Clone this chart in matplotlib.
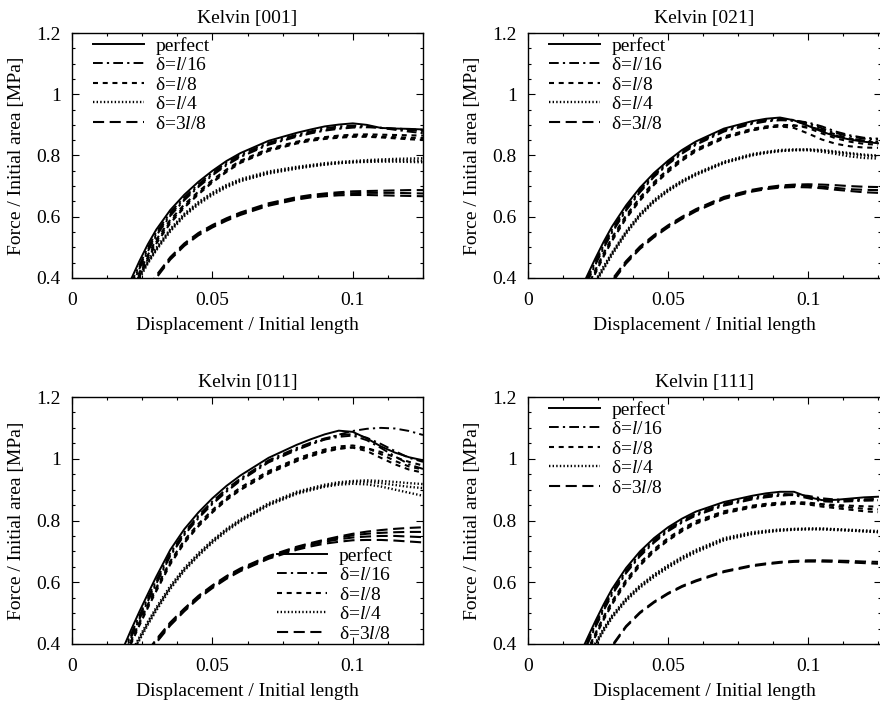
import matplotlib
matplotlib.use("Agg")
import matplotlib.pyplot as plt
from matplotlib.ticker import FixedLocator, FixedFormatter, MultipleLocator

plt.rcParams.update({
    "font.family": ["Liberation Serif", "DejaVu Serif"],
    "mathtext.fontset": "custom",
    "mathtext.rm": "Liberation Serif",
    "mathtext.it": "Liberation Serif:italic",
    "font.size": 14,
    "lines.scale_dashes": False,
    "axes.linewidth": 1.0,
})

# strain sample points shared by every curve
strain = [0.018, 0.021, 0.024, 0.027, 0.030, 0.035, 0.040, 0.045, 0.050, 0.055, 0.060,
          0.070, 0.080, 0.085, 0.090, 0.095, 0.100, 0.105, 0.110, 0.115, 0.120, 0.125]

labels = ["perfect", "δ=$l$/16", "δ=$l$/8", "δ=$l$/4", "δ=3$l$/8"]
titles = ["Kelvin [001]", "Kelvin [021]", "Kelvin [011]", "Kelvin [111]"]
xtick_vals = [0, 0.05, 0.1]
xtick_text = ["0", "0.05", "0.1"]
ytick_vals = [0.4, 0.6, 0.8, 1.0, 1.2]
ytick_text = ["0.4", "0.6", "0.8", "1", "1.2"]

# ---- Kelvin [001] ----
k001_perfect = [[0.335, 0.395, 0.455, 0.510, 0.558, 0.622, 0.672, 0.714, 0.750, 0.782, 0.808, 0.848, 0.874, 0.885, 0.895, 0.901, 0.905, 0.900, 0.890, 0.888, 0.887, 0.885]]
k001_l16 = [
    [0.320, 0.382, 0.442, 0.499, 0.549, 0.614, 0.664, 0.706, 0.744, 0.777, 0.803, 0.842, 0.868, 0.879, 0.889, 0.895, 0.898, 0.896, 0.890, 0.886, 0.883, 0.880],
    [0.314, 0.376, 0.436, 0.493, 0.543, 0.608, 0.658, 0.701, 0.739, 0.772, 0.798, 0.838, 0.864, 0.875, 0.884, 0.890, 0.894, 0.894, 0.890, 0.884, 0.878, 0.873],
    [0.308, 0.370, 0.430, 0.487, 0.538, 0.603, 0.654, 0.697, 0.735, 0.768, 0.795, 0.835, 0.861, 0.872, 0.881, 0.887, 0.891, 0.892, 0.891, 0.888, 0.886, 0.884]]
k001_l8 = [
    [0.295, 0.358, 0.418, 0.475, 0.525, 0.590, 0.640, 0.682, 0.720, 0.754, 0.783, 0.822, 0.845, 0.854, 0.860, 0.865, 0.868, 0.869, 0.868, 0.867, 0.866, 0.865],
    [0.288, 0.351, 0.411, 0.468, 0.518, 0.584, 0.634, 0.677, 0.715, 0.749, 0.779, 0.818, 0.842, 0.851, 0.857, 0.861, 0.864, 0.864, 0.862, 0.860, 0.858, 0.857],
    [0.282, 0.345, 0.405, 0.462, 0.512, 0.579, 0.630, 0.673, 0.712, 0.746, 0.776, 0.815, 0.839, 0.848, 0.854, 0.858, 0.861, 0.861, 0.859, 0.856, 0.853, 0.851]]
k001_l4 = [
    [0.305, 0.357, 0.407, 0.455, 0.498, 0.560, 0.610, 0.648, 0.679, 0.704, 0.723, 0.748, 0.763, 0.769, 0.775, 0.779, 0.782, 0.785, 0.787, 0.789, 0.790, 0.791],
    [0.301, 0.353, 0.403, 0.451, 0.494, 0.556, 0.606, 0.644, 0.675, 0.700, 0.719, 0.744, 0.760, 0.766, 0.771, 0.775, 0.778, 0.779, 0.780, 0.780, 0.779, 0.778],
    [0.297, 0.349, 0.399, 0.447, 0.490, 0.552, 0.602, 0.640, 0.671, 0.696, 0.716, 0.741, 0.757, 0.764, 0.770, 0.775, 0.778, 0.781, 0.783, 0.784, 0.784, 0.783]]
k001_l38 = [
    [0.230, 0.275, 0.320, 0.365, 0.408, 0.468, 0.513, 0.547, 0.573, 0.595, 0.614, 0.644, 0.664, 0.671, 0.676, 0.680, 0.683, 0.684, 0.685, 0.686, 0.687, 0.687],
    [0.226, 0.271, 0.316, 0.361, 0.404, 0.464, 0.509, 0.543, 0.569, 0.591, 0.610, 0.640, 0.660, 0.667, 0.672, 0.675, 0.677, 0.678, 0.678, 0.678, 0.677, 0.676],
    [0.222, 0.267, 0.312, 0.357, 0.400, 0.460, 0.505, 0.539, 0.565, 0.587, 0.606, 0.636, 0.656, 0.663, 0.667, 0.670, 0.671, 0.671, 0.670, 0.669, 0.668, 0.667]]

# ---- Kelvin [021] ----
k021_perfect = [[0.345, 0.405, 0.463, 0.518, 0.568, 0.637, 0.695, 0.743, 0.783, 0.818, 0.846, 0.888, 0.912, 0.920, 0.924, 0.915, 0.897, 0.878, 0.862, 0.852, 0.845, 0.840]]
k021_l16 = [
    [0.335, 0.395, 0.453, 0.508, 0.559, 0.629, 0.688, 0.737, 0.778, 0.813, 0.841, 0.884, 0.909, 0.917, 0.920, 0.916, 0.905, 0.889, 0.873, 0.862, 0.855, 0.852],
    [0.330, 0.389, 0.447, 0.502, 0.553, 0.624, 0.683, 0.733, 0.774, 0.809, 0.838, 0.881, 0.906, 0.914, 0.917, 0.913, 0.900, 0.882, 0.865, 0.855, 0.849, 0.845],
    [0.325, 0.384, 0.442, 0.497, 0.548, 0.620, 0.680, 0.730, 0.771, 0.806, 0.835, 0.878, 0.903, 0.911, 0.915, 0.914, 0.908, 0.895, 0.878, 0.866, 0.858, 0.855]]
k021_l8 = [
    [0.305, 0.366, 0.425, 0.481, 0.532, 0.604, 0.663, 0.713, 0.755, 0.791, 0.821, 0.862, 0.887, 0.895, 0.900, 0.899, 0.890, 0.872, 0.856, 0.845, 0.838, 0.835],
    [0.300, 0.360, 0.419, 0.475, 0.526, 0.598, 0.657, 0.708, 0.750, 0.786, 0.817, 0.858, 0.883, 0.891, 0.895, 0.890, 0.872, 0.852, 0.838, 0.830, 0.826, 0.825],
    [0.295, 0.355, 0.414, 0.470, 0.521, 0.594, 0.653, 0.704, 0.746, 0.783, 0.814, 0.856, 0.882, 0.890, 0.896, 0.897, 0.894, 0.884, 0.868, 0.855, 0.846, 0.842]]
k021_l4 = [
    [0.290, 0.340, 0.390, 0.438, 0.483, 0.552, 0.610, 0.655, 0.690, 0.718, 0.742, 0.780, 0.805, 0.812, 0.818, 0.820, 0.819, 0.815, 0.810, 0.805, 0.800, 0.797],
    [0.286, 0.336, 0.385, 0.433, 0.479, 0.548, 0.606, 0.651, 0.686, 0.715, 0.739, 0.777, 0.802, 0.810, 0.815, 0.817, 0.817, 0.812, 0.805, 0.797, 0.792, 0.790],
    [0.282, 0.332, 0.381, 0.429, 0.475, 0.544, 0.602, 0.648, 0.683, 0.712, 0.736, 0.775, 0.800, 0.808, 0.814, 0.818, 0.820, 0.818, 0.813, 0.808, 0.803, 0.800]]
k021_l38 = [
    [0.220, 0.265, 0.310, 0.355, 0.395, 0.455, 0.503, 0.540, 0.572, 0.600, 0.625, 0.665, 0.688, 0.696, 0.702, 0.705, 0.706, 0.705, 0.703, 0.700, 0.698, 0.697],
    [0.215, 0.260, 0.305, 0.350, 0.390, 0.451, 0.499, 0.536, 0.568, 0.596, 0.621, 0.661, 0.685, 0.693, 0.698, 0.701, 0.701, 0.698, 0.694, 0.690, 0.688, 0.687],
    [0.210, 0.255, 0.300, 0.345, 0.385, 0.447, 0.495, 0.533, 0.565, 0.593, 0.618, 0.658, 0.682, 0.690, 0.695, 0.697, 0.696, 0.693, 0.688, 0.684, 0.680, 0.678]]

# ---- Kelvin [011] ----
k011_perfect = [[0.382, 0.445, 0.505, 0.562, 0.618, 0.705, 0.772, 0.826, 0.872, 0.912, 0.946, 1.003, 1.045, 1.063, 1.079, 1.091, 1.087, 1.066, 1.040, 1.020, 1.005, 0.995]]
k011_l16 = [
    [0.370, 0.432, 0.492, 0.550, 0.606, 0.695, 0.762, 0.816, 0.862, 0.902, 0.936, 0.995, 1.035, 1.052, 1.066, 1.076, 1.080, 1.068, 1.048, 1.025, 1.003, 0.990],
    [0.365, 0.426, 0.486, 0.544, 0.600, 0.690, 0.757, 0.811, 0.857, 0.897, 0.932, 0.991, 1.031, 1.048, 1.062, 1.071, 1.075, 1.060, 1.035, 1.008, 0.982, 0.967],
    [0.360, 0.420, 0.480, 0.538, 0.595, 0.685, 0.753, 0.807, 0.853, 0.893, 0.929, 0.988, 1.028, 1.046, 1.063, 1.078, 1.090, 1.097, 1.100, 1.098, 1.090, 1.077]]
k011_l8 = [
    [0.350, 0.410, 0.470, 0.528, 0.582, 0.668, 0.736, 0.789, 0.834, 0.874, 0.907, 0.960, 1.000, 1.016, 1.030, 1.040, 1.043, 1.035, 1.015, 0.993, 0.975, 0.965],
    [0.345, 0.405, 0.465, 0.522, 0.576, 0.663, 0.731, 0.784, 0.829, 0.869, 0.902, 0.955, 0.995, 1.011, 1.025, 1.034, 1.036, 1.025, 1.003, 0.982, 0.965, 0.955],
    [0.340, 0.400, 0.460, 0.517, 0.571, 0.658, 0.727, 0.781, 0.826, 0.866, 0.899, 0.952, 0.992, 1.008, 1.022, 1.032, 1.037, 1.034, 1.022, 1.005, 0.990, 0.978]]
k011_l4 = [
    [0.315, 0.370, 0.422, 0.472, 0.518, 0.588, 0.646, 0.694, 0.736, 0.773, 0.804, 0.856, 0.893, 0.905, 0.916, 0.924, 0.928, 0.930, 0.928, 0.925, 0.921, 0.918],
    [0.310, 0.365, 0.417, 0.467, 0.513, 0.583, 0.641, 0.689, 0.732, 0.769, 0.800, 0.852, 0.889, 0.901, 0.912, 0.920, 0.925, 0.925, 0.921, 0.915, 0.909, 0.905],
    [0.305, 0.360, 0.412, 0.462, 0.508, 0.578, 0.637, 0.685, 0.728, 0.765, 0.797, 0.849, 0.886, 0.898, 0.909, 0.916, 0.919, 0.917, 0.910, 0.900, 0.890, 0.880]]
k011_l38 = [
    [0.240, 0.290, 0.335, 0.378, 0.415, 0.470, 0.515, 0.556, 0.590, 0.620, 0.645, 0.685, 0.715, 0.727, 0.738, 0.748, 0.757, 0.764, 0.769, 0.773, 0.776, 0.778],
    [0.236, 0.286, 0.331, 0.374, 0.411, 0.466, 0.512, 0.553, 0.587, 0.617, 0.642, 0.682, 0.712, 0.724, 0.735, 0.744, 0.752, 0.757, 0.760, 0.762, 0.763, 0.763],
    [0.232, 0.282, 0.327, 0.370, 0.407, 0.463, 0.509, 0.550, 0.584, 0.614, 0.639, 0.679, 0.709, 0.721, 0.731, 0.739, 0.745, 0.748, 0.750, 0.750, 0.748, 0.746],
    [0.228, 0.278, 0.323, 0.366, 0.404, 0.460, 0.506, 0.547, 0.581, 0.611, 0.636, 0.676, 0.705, 0.716, 0.725, 0.731, 0.736, 0.737, 0.737, 0.735, 0.732, 0.729]]

# ---- Kelvin [111] ----
k111_perfect = [[0.355, 0.415, 0.473, 0.528, 0.578, 0.646, 0.700, 0.743, 0.778, 0.806, 0.829, 0.860, 0.880, 0.888, 0.893, 0.893, 0.876, 0.866, 0.867, 0.871, 0.875, 0.877]]
k111_l16 = [
    [0.345, 0.405, 0.463, 0.518, 0.569, 0.638, 0.693, 0.737, 0.772, 0.800, 0.823, 0.855, 0.875, 0.882, 0.886, 0.885, 0.877, 0.868, 0.866, 0.867, 0.869, 0.870],
    [0.340, 0.400, 0.458, 0.513, 0.564, 0.633, 0.688, 0.732, 0.768, 0.796, 0.819, 0.851, 0.871, 0.878, 0.882, 0.882, 0.872, 0.862, 0.860, 0.862, 0.864, 0.865],
    [0.335, 0.395, 0.453, 0.508, 0.559, 0.629, 0.684, 0.728, 0.765, 0.793, 0.816, 0.848, 0.868, 0.875, 0.880, 0.884, 0.880, 0.872, 0.868, 0.866, 0.866, 0.866]]
k111_l8 = [
    [0.315, 0.375, 0.433, 0.488, 0.538, 0.607, 0.663, 0.707, 0.743, 0.773, 0.798, 0.830, 0.848, 0.854, 0.858, 0.860, 0.858, 0.853, 0.850, 0.848, 0.846, 0.845],
    [0.310, 0.370, 0.428, 0.483, 0.533, 0.602, 0.658, 0.702, 0.738, 0.768, 0.793, 0.826, 0.845, 0.851, 0.855, 0.856, 0.852, 0.845, 0.840, 0.835, 0.830, 0.827],
    [0.305, 0.365, 0.423, 0.478, 0.528, 0.598, 0.654, 0.699, 0.735, 0.765, 0.790, 0.823, 0.842, 0.848, 0.852, 0.855, 0.855, 0.851, 0.846, 0.842, 0.838, 0.836]]
k111_l4 = [
    [0.296, 0.350, 0.402, 0.450, 0.492, 0.547, 0.590, 0.625, 0.655, 0.682, 0.705, 0.743, 0.762, 0.767, 0.771, 0.773, 0.774, 0.774, 0.772, 0.770, 0.768, 0.766],
    [0.292, 0.346, 0.398, 0.446, 0.488, 0.543, 0.586, 0.621, 0.651, 0.678, 0.701, 0.739, 0.758, 0.764, 0.768, 0.771, 0.773, 0.773, 0.771, 0.768, 0.765, 0.762],
    [0.288, 0.342, 0.394, 0.442, 0.484, 0.539, 0.582, 0.617, 0.647, 0.674, 0.697, 0.736, 0.756, 0.762, 0.767, 0.770, 0.771, 0.771, 0.769, 0.767, 0.765, 0.763]]
k111_l38 = [
    [0.220, 0.265, 0.310, 0.355, 0.395, 0.458, 0.503, 0.537, 0.565, 0.588, 0.606, 0.636, 0.655, 0.661, 0.666, 0.669, 0.671, 0.671, 0.670, 0.669, 0.667, 0.666],
    [0.216, 0.261, 0.306, 0.351, 0.391, 0.455, 0.500, 0.534, 0.562, 0.585, 0.603, 0.633, 0.652, 0.658, 0.663, 0.666, 0.667, 0.667, 0.666, 0.664, 0.662, 0.660]]

panels = [
    [k001_perfect, k001_l16, k001_l8, k001_l4, k001_l38],
    [k021_perfect, k021_l16, k021_l8, k021_l4, k021_l38],
    [k011_perfect, k011_l16, k011_l8, k011_l4, k011_l38],
    [k111_perfect, k111_l16, k111_l8, k111_l4, k111_l38],
]

# line style per imperfection level: (on/off lengths in points, width)
dash_styles = [None, (7.0, 3.0, 1.6, 3.0), (3.6, 3.4), (1.0, 1.6), (8.0, 4.0)]
line_widths = [1.4, 1.4, 1.5, 1.7, 1.5]

# axes rectangles in figure fractions: left, bottom, width, height
W, H = 880.0, 706.0
axes_rects = [
    (72 / W, (H - 278) / H, 351 / W, 245 / H),
    (528 / W, (H - 278) / H, 352.8 / W, 245 / H),
    (72 / W, (H - 644) / H, 351 / W, 247 / H),
    (528 / W, (H - 644) / H, 352.8 / W, 247 / H),
]
xmax = [0.125, 0.126, 0.125, 0.126]
legend_place = [
    ("upper left", (0.06, 0.985)),
    ("upper left", (0.06, 0.985)),
    ("lower right", (0.915, 0.005)),
    ("upper left", (0.06, 0.985)),
]

fig = plt.figure(figsize=(8.8, 7.06), dpi=100)

for i, groups in enumerate(panels):
    ax = fig.add_axes(axes_rects[i])
    for g, curves in enumerate(groups):
        for j, ys in enumerate(curves):
            line, = ax.plot(strain, ys, color="black", lw=line_widths[g],
                            label=labels[g] if j == 0 else None)
            if dash_styles[g] is not None:
                line.set_dashes(dash_styles[g])
    ax.set_xlim(0, xmax[i])
    ax.set_ylim(0.4, 1.2)
    ax.xaxis.set_major_locator(FixedLocator(xtick_vals))
    ax.xaxis.set_major_formatter(FixedFormatter(xtick_text))
    ax.yaxis.set_major_locator(FixedLocator(ytick_vals))
    ax.yaxis.set_major_formatter(FixedFormatter(ytick_text))
    ax.xaxis.set_minor_locator(MultipleLocator(0.0125))
    ax.yaxis.set_minor_locator(MultipleLocator(0.05))
    ax.tick_params(which="both", direction="in", top=True, right=True, width=0.8)
    ax.tick_params(which="major", length=5)
    ax.tick_params(which="minor", length=2.5)
    ax.tick_params(axis="y", which="major", pad=8)
    ax.tick_params(axis="x", which="major", pad=10)
    ax.set_title(titles[i], fontsize=14, pad=7)
    ax.set_xlabel("Displacement / Initial length", fontsize=14, labelpad=6)
    ax.set_ylabel("Force / Initial area [MPa]", fontsize=14, labelpad=8)
    loc, anchor = legend_place[i]
    ax.legend(loc=loc, bbox_to_anchor=anchor, frameon=False, fontsize=14,
              handlelength=2.6, handletextpad=0.6, labelspacing=0.1,
              borderpad=0, borderaxespad=0)

fig.savefig("out.png", dpi=100)
